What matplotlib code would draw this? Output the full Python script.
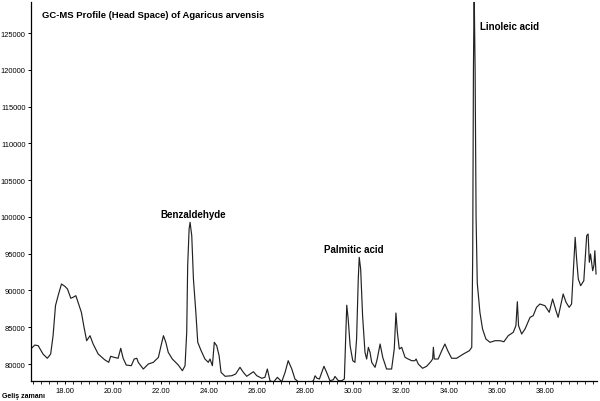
import numpy as np
import matplotlib
matplotlib.use("Agg")
from matplotlib import pyplot as plt
from matplotlib.ticker import MultipleLocator, FixedLocator

# retention time (min) and abundance
rt = [16.57, 16.74, 16.88, 17.08, 17.26, 17.40, 17.50, 17.60, 17.71, 17.85,
      17.99, 18.10, 18.24, 18.33, 18.45, 18.54, 18.68, 18.79, 18.90, 19.04,
      19.17, 19.38, 19.65, 19.82, 19.90, 20.04, 20.21, 20.32, 20.42, 20.55,
      20.76, 20.88, 20.99, 21.05, 21.26, 21.47, 21.68, 21.89, 22.00, 22.10,
      22.20, 22.30, 22.47, 22.61, 22.72, 22.89, 23.00, 23.07, 23.11, 23.17,
      23.21, 23.28, 23.35, 23.45, 23.53, 23.67, 23.83, 23.97, 24.04, 24.14,
      24.22, 24.32, 24.42, 24.50, 24.67, 24.95, 25.11, 25.29, 25.43, 25.57,
      25.71, 25.85, 25.99, 26.20, 26.33, 26.43, 26.54, 26.68, 26.85, 27.03,
      27.17, 27.30, 27.45, 27.58, 27.72, 28.21, 28.35, 28.42, 28.50, 28.60,
      28.70, 28.79, 28.90, 29.04, 29.18, 29.25, 29.39, 29.53, 29.64, 29.68,
      29.74, 29.80, 29.88, 29.99, 30.08, 30.15, 30.22, 30.26, 30.32, 30.40,
      30.50, 30.57, 30.64, 30.71, 30.78, 30.92, 31.01, 31.13, 31.24, 31.40,
      31.61, 31.72, 31.79, 31.85, 31.93, 32.03, 32.17, 32.30, 32.45, 32.58,
      32.63, 32.72, 32.90, 33.07, 33.24, 33.32, 33.35, 33.39, 33.55, 33.70,
      33.83, 33.95, 34.11, 34.32, 34.60, 34.85, 34.95, 34.99, 35.02, 35.05,
      35.09, 35.13, 35.18, 35.29, 35.40, 35.54, 35.71, 35.92, 36.13, 36.29,
      36.47, 36.68, 36.79, 36.85, 36.90, 37.03, 37.17, 37.38, 37.51, 37.65,
      37.79, 38.00, 38.18, 38.32, 38.46, 38.55, 38.70, 38.76, 38.88, 39.01,
      39.11, 39.21, 39.26, 39.32, 39.39, 39.49, 39.62, 39.74, 39.80, 39.85,
      39.90, 39.99, 40.04, 40.08, 40.13]
abund = [82040, 82580, 82490, 81360, 80780, 81360, 83850, 87930, 89290, 90880,
         90570, 90200, 88940, 89070, 89290, 88390, 87030, 84990, 83170, 83850,
         82720, 81360, 80580, 80230, 81050, 80910, 80780, 82140, 80780, 79860,
         79770, 80680, 80780, 80230, 79320, 80000, 80230, 80910, 82490, 83850,
         82950, 81590, 80680, 80230, 79860, 79090, 79770, 84310, 93370, 98360,
         99270, 97450, 91560, 87030, 82950, 81810, 80680, 80230, 80680, 79770,
         82950, 82490, 81130, 78870, 78330, 78410, 78640, 79550, 78870, 78330,
         78640, 78950, 78410, 78060, 78190, 79320, 77730, 77510, 78190, 77590,
         78870, 80450, 79320, 77960, 77590, 77510, 77730, 78400, 78060, 77960,
         78870, 79690, 78870, 77730, 77860, 78310, 77730, 77730, 77960, 82040,
         88000, 86120, 82490, 80450, 80230, 83400, 91560, 94510, 92920, 86570,
         81590, 80680, 82270, 81590, 80230, 79550, 80680, 82720, 80910, 79320,
         79320, 82040, 86940, 84310, 82040, 82270, 80910, 80680, 80450, 80450,
         80680, 80000, 79420, 79690, 80310, 80680, 82270, 80680, 80680, 81810,
         82720, 81810, 80780, 80780, 81360, 81810, 82270, 95000, 120000, 131000,
         120000, 100000, 91000, 87030, 84760, 83400, 82950, 83170, 83170, 83030,
         83850, 84310, 85210, 88470, 85210, 84080, 84760, 86350, 86570, 87710,
         88160, 87930, 87030, 88840, 87250, 86350, 88610, 89520, 88390, 87710,
         88160, 94280, 97230, 94280, 91560, 90650, 91330, 97450, 97680, 93830,
         94960, 92690, 93370, 95410, 92240]

peaks = ["Benzaldehyde", "Palmitic acid", "Linoleic acid"]
peak_rt = [23.33, 30.02, 35.29]
peak_y = [100400, 95700, 126000]

title = "GC-MS Profile (Head Space) of Agaricus arvensis"
xlabel = "Geliş zamanı"
x_major = [18, 20, 22, 24, 26, 28, 30, 32, 34, 36, 38]
y_major = [80000, 85000, 90000, 95000, 100000, 105000, 110000, 115000, 120000, 125000]

plt.rcParams['font.family'] = ['Liberation Sans', 'DejaVu Sans']

fig = plt.figure(figsize=(6.0, 4.02), dpi=100)
ax = fig.add_axes([31/600, 20/402, 566/600, 379/402])

ax.plot(rt, abund, color="#222222", lw=0.85)
ax.set_xlim(16.58, 40.17)
ax.set_ylim(77690, 129230)

for s in ["top", "right"]:
    ax.spines[s].set_visible(False)
ax.spines["left"].set_linewidth(0.9)
ax.spines["bottom"].set_linewidth(0.9)

ax.xaxis.set_major_locator(FixedLocator(x_major))
ax.set_xticklabels(["%.2f" % v for v in x_major])
ax.xaxis.set_minor_locator(MultipleLocator(1/3))
ax.yaxis.set_major_locator(FixedLocator(y_major))
ax.set_yticklabels([str(v) for v in y_major])
ax.tick_params(axis="both", labelsize=5.4, length=2.5, width=0.7, pad=1.5)
ax.tick_params(axis="x", which="minor", length=2, width=0.6)

for name, x, y in zip(peaks, peak_rt, peak_y):
    ha = "left" if name.startswith("Lino") else "center"
    ax.text(x, y, name, ha=ha, va="center", fontsize=7, fontweight="bold")

fig.text(42/600, 1 - 16/402, title, ha="left", va="center", fontsize=6.8, fontweight="bold")
fig.text(2/600, 1 - 397/402, xlabel, ha="left", va="center", fontsize=5, fontweight="bold")

fig.savefig("out.png", dpi=100)
